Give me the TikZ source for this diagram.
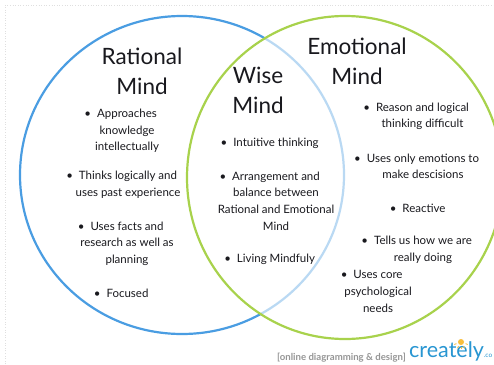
\documentclass[tikz,border=0pt]{standalone}
\usepackage{fontspec}
\setmainfont{Lato}
\definecolor{cblue}{RGB}{74,157,226}
\definecolor{cgreen}{RGB}{168,210,76}
\definecolor{ctext}{RGB}{25,25,30}
\definecolor{cgray}{RGB}{150,150,150}
\definecolor{clogo}{RGB}{40,150,210}
\definecolor{cbulb}{RGB}{250,190,60}
\begin{document}
\begin{tikzpicture}[x=1pt,y=-1pt,
  title/.style={font=\fontsize{22.5}{30}\selectfont, text=ctext, align=center, inner sep=0pt},
  item/.style={font=\fontsize{11.5}{16.6}\selectfont, text=ctext, align=center, inner sep=0pt}]
\useasboundingbox (0,0) rectangle (494,364);
\fill[white] (0,0) rectangle (494,364);
% faint dotted frame
\draw[gray!25, dotted, line width=0.6pt] (5,364) -- (5,5) -- (494,5);
% circles
\draw[cblue, line width=2.2pt] (182,175) ellipse [x radius=162, y radius=159];
\path[fill=white, fill opacity=0.62] (345,177.5) ellipse [x radius=158, y radius=161.5];
\draw[cgreen, line width=2.2pt] (345,177.5) ellipse [x radius=158, y radius=161.5];
% titles
\node[title] (rt) at (142,71) {Rational\\Mind};
\node[title] (wt) at (258,90) {Wise\\Mind};
\node[title] (et) at (357,61) {Emotional\\Mind};
% rational items
\node[item] (r1) at (127,131) {\llap{•\hspace{6pt}}Approaches\\knowledge\\intellectually};
\node[item] (r2) at (128,185) {\llap{•\hspace{6pt}}Thinks logically and\\uses past experience};
\node[item] (r3) at (127,243.5) {\llap{•\hspace{6pt}}Uses facts and\\research as well as\\planning};
\node[item] (r4) at (127.5,293) {\llap{•\hspace{6pt}}Focused};
% wise items
\node[item] (w1) at (276,143) {\llap{•\hspace{6pt}}Intuitive thinking};
\node[item] (w2) at (276,201) {\llap{•\hspace{6pt}}Arrangement and\\balance between\\Rational and Emotional\\Mind};
\node[item] (w3) at (276,259) {\llap{•\hspace{6pt}}Living Mindfuly};
% emotional items
\node[item] (e1) at (422.5,116.5) {\llap{•\hspace{6pt}}Reason and logical\\thinking difficult};
\node[item] (e2) at (423,166.5) {\llap{•\hspace{6pt}}Uses only emotions to\\make descisions};
\node[item] (e3) at (424,208.5) {\llap{•\hspace{6pt}}Reactive};
\node[item] (e4) at (423,250) {\llap{•\hspace{6pt}}Tells us how we are\\really doing};
\node[item] (e5) at (378,291.5) {\llap{•\hspace{6pt}}Uses core\\psychological\\needs};
% watermark
\node[font=\bfseries\fontsize{9.6}{10}\selectfont, text=cgray, inner sep=0pt, anchor=base east] (wm) at (406,360) {[online diagramming \& design]};
\node[font=\fontsize{21.5}{24}\selectfont, text=clogo, inner sep=0pt, anchor=base west] (logo) at (409,357) {creately\fontsize{6.5}{8}\selectfont.co};
\fill[cbulb] (461,342) circle (3);
\foreach \a in {200,240,270,300,340}
  \draw[cbulb, line width=0.8pt] (461,342) ++(\a:-4.8) -- ++(\a:-2.4);
\end{tikzpicture}
\end{document}
